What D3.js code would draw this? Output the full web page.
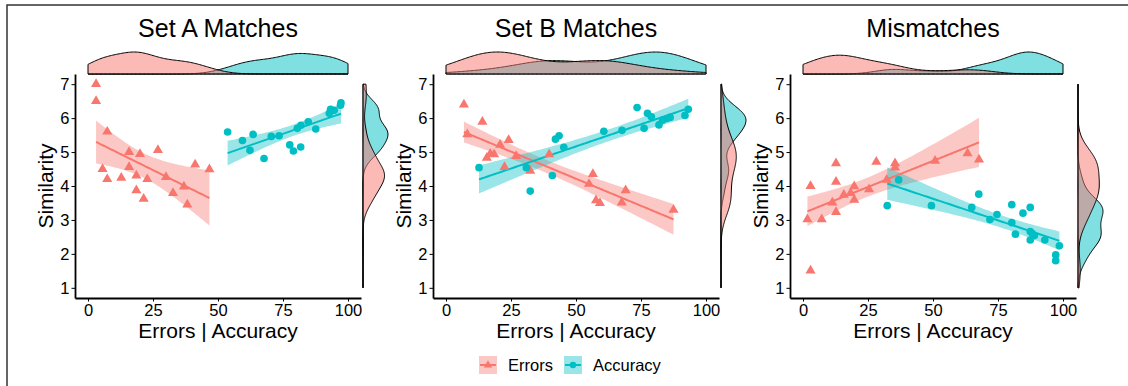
<!DOCTYPE html>
<html>
<head>
<meta charset="utf-8">
<script src="https://cdn.jsdelivr.net/npm/d3@7"></script>
<style>
  body { margin: 0; background: #fff; }
  svg { display: block; font-family: "Liberation Sans", Arial, sans-serif; }
</style>
</head>
<body>
<svg id="chart" width="1128" height="386"></svg>
<script>
const panelTitles = ["Set A Matches", "Set B Matches", "Mismatches"]
const groups = ["Errors", "Accuracy"]
const groupColors = ["#F8766D", "#00BFC4"]
const xTicks = [0, 25, 50, 75, 100]
const yTicks = [1, 2, 3, 4, 5, 6, 7]

// [errors or accuracy %, similarity]
const setAErrors = [[3.1,7.0],[3.1,6.5],[7.4,5.6],[5.6,4.5],[7.4,4.2],[12.8,4.24],[15.8,5.0],[15.8,4.56],[20,4.94],[18.6,4.31],
  [18.6,3.87],[21.4,3.62],[22.8,4.2],[26.9,5.06],[30,4.26],[32.7,3.79],[36.9,3.98],[38.2,3.45],[41.2,4.63],[46.7,4.49]]
const setAAccuracy = [[53.7,5.59],[59.4,5.34],[62.3,5.05],[63.5,5.52],[67.7,4.81],[70.5,5.46],[73.5,5.48],[77.6,5.21],[79,5.03],[80.5,5.70],
  [81.8,5.15],[81.9,5.79],[84.7,5.89],[87.6,5.68],[92.8,6.14],[93.3,6.26],[94.7,6.23],[97.3,6.45],[97.1,6.38]]
const setBErrors = [[6.9,6.40],[14.0,5.89],[8.2,5.52],[20.8,5.21],[24.1,5.35],[15.7,4.83],[18.5,4.93],[17,4.95],[27,4.88],[22.5,4.56],
  [32.4,4.45],[39.7,4.93],[55,4.06],[56.5,4.35],[57.7,3.58],[59.2,3.5],[67.6,3.51],[69.1,3.87],[87.5,3.30]]
const setBAccuracy = [[12.7,4.54],[30.9,4.54],[32.4,3.85],[40.9,4.31],[42.1,5.38],[43.5,5.48],[45.3,5.14],[60.7,5.61],[67.7,5.64],[73.5,6.31],
  [76.2,5.70],[77.5,6.14],[79,6.04],[81.9,5.80],[83.3,5.94],[84.9,5.99],[86.2,6.02],[91.9,6.08],[93.2,6.26]]
const mismatchErrors = [[1.7,3.02],[2.9,1.51],[2.9,4.0],[7.2,3.02],[11.3,3.51],[12.7,4.67],[12.7,4.12],[12.7,3.23],[15.7,3.74],[18.3,3.79],
  [19.7,3.99],[19.7,3.59],[25.4,3.90],[28.2,4.71],[32.2,4.18],[35.4,4.67],[35.4,4.54],[50.8,4.74],[63.3,4.96],[67.7,4.78]]
const mismatchAccuracy = [[32.4,3.42],[36.8,4.18],[49.4,3.42],[64.9,3.37],[67.6,3.76],[71.9,3.01],[74.6,3.16],[80.3,3.45],[80.3,2.92],[81.7,2.58],
  [84.6,3.20],[87.4,3.37],[87.4,2.66],[87.4,2.41],[89,2.54],[93,2.41],[98.6,2.24],[97.2,1.97],[97.2,1.80],[88.2,2.6]]

const panels = [
  { title: panelTitles[0], series: [setAErrors, setAAccuracy] },
  { title: panelTitles[1], series: [setBErrors, setBAccuracy] },
  { title: panelTitles[2], series: [mismatchErrors, mismatchAccuracy] }
]

// --- small stats helpers (lm with 95% CI, gaussian kde with bw.nrd0) ---
const tQuant = (df) => {
  const z = 1.959964
  return z + (z**3 + z) / (4 * df) + (5 * z**5 + 16 * z**3 + 3 * z) / (96 * df * df)
}

const linFit = (pts) => {
  const n = pts.length
  const mx = d3.mean(pts, p => p[0]), my = d3.mean(pts, p => p[1])
  let sxx = 0, sxy = 0
  pts.forEach(p => { sxx += (p[0] - mx) ** 2; sxy += (p[0] - mx) * (p[1] - my) })
  const b = sxy / sxx, a = my - b * mx
  let sse = 0
  pts.forEach(p => { sse += (p[1] - a - b * p[0]) ** 2 })
  const s = Math.sqrt(sse / (n - 2)), t = tQuant(n - 2)
  const [lo, hi] = d3.extent(pts, p => p[0])
  return d3.range(80).map(i => {
    const x = lo + (hi - lo) * i / 79, y = a + b * x
    const se = s * Math.sqrt(1 / n + (x - mx) ** 2 / sxx)
    return { x: x, y: y, lo: y - t * se, hi: y + t * se }
  })
}

const bwNrd0 = (v) => {
  const s = v.slice().sort(d3.ascending)
  const iqr = d3.quantileSorted(s, 0.75) - d3.quantileSorted(s, 0.25)
  return 0.9 * Math.min(d3.deviation(s), iqr / 1.34) * Math.pow(s.length, -0.2)
}

const kde = (v, lo, hi) => {
  const bw = bwNrd0(v)
  return d3.range(201).map(i => {
    const x = lo + (hi - lo) * i / 200
    const d = d3.sum(v, u => Math.exp(-0.5 * ((x - u) / bw) ** 2)) / (v.length * bw * Math.sqrt(2 * Math.PI))
    return [x, d]
  })
}

const svg = d3.select("#chart")

// outer frame (only top/left edges fall inside the image)
svg.append("rect")
  .attr("x", 7).attr("y", 5).attr("width", 1140).attr("height", 400)
  .attr("fill", "none").attr("stroke", "#333").attr("stroke-width", 1.5)

const x0s = [88, 446, 803]
const dataW = 260
const plotTop = 74, plotBottom = 298

panels.forEach((p, pi) => {
  const x0 = x0s[pi]
  const x = d3.scaleLinear().domain([-5, 105]).range([x0 - dataW * 0.05, x0 + dataW * 1.05])
  const y = d3.scaleLinear().domain([0.7, 7.3]).range([plotBottom, plotTop])
  const g = svg.append("g")

  // title
  g.append("text")
    .attr("x", x(50)).attr("y", 37)
    .attr("text-anchor", "middle")
    .attr("font-size", 25)
    .text(p.title)

  // top marginal density of x
  const topDens = p.series.map(s => kde(s.map(d => d[0]), 0, 100))
  const topMax = d3.max(topDens, d => d3.max(d, e => e[1]))
  const hy = d3.scaleLinear().domain([0, topMax]).range([plotTop, plotTop - 22])
  const topArea = d3.area().x(d => x(d[0])).y0(plotTop).y1(d => hy(d[1])).curve(d3.curveBasis)
  ;[1, 0].forEach(gi => {
    g.append("path")
      .attr("d", topArea(topDens[gi]))
      .attr("fill", groupColors[gi]).attr("fill-opacity", 0.5)
      .attr("stroke", "#000").attr("stroke-width", 1)
  })

  // right marginal density of y
  const rightBase = x(105) + 2
  const rDens = p.series.map(s => kde(s.map(d => d[1]), 1, 7))
  const rMax = d3.max(rDens, d => d3.max(d, e => e[1]))
  const wx = d3.scaleLinear().domain([0, rMax]).range([rightBase, rightBase + 25])
  const rArea = d3.area().y(d => y(d[0])).x0(rightBase).x1(d => wx(d[1])).curve(d3.curveBasis)
  ;[1, 0].forEach(gi => {
    g.append("path")
      .attr("d", rArea(rDens[gi]))
      .attr("fill", groupColors[gi]).attr("fill-opacity", 0.5)
      .attr("stroke", "#000").attr("stroke-width", 1)
  })

  // regression bands + lines
  p.series.forEach((s, gi) => {
    const fit = linFit(s)
    g.append("path")
      .attr("d", d3.area().x(d => x(d.x)).y0(d => y(d.lo)).y1(d => y(d.hi))(fit))
      .attr("fill", groupColors[gi]).attr("fill-opacity", 0.4)
  })
  p.series.forEach((s, gi) => {
    const fit = linFit(s)
    g.append("path")
      .attr("d", d3.line().x(d => x(d.x)).y(d => y(d.y))(fit))
      .attr("fill", "none").attr("stroke", groupColors[gi]).attr("stroke-width", 2)
  })

  // points
  p.series.forEach((s, gi) => {
    const sym = d3.symbol().type(gi == 0 ? d3.symbolTriangle : d3.symbolCircle).size(gi == 0 ? 44 : 46)
    g.selectAll(".pt" + gi)
      .data(s)
      .enter().append("path")
        .attr("transform", d => "translate(" + x(d[0]) + "," + y(d[1]) + ")")
        .attr("d", sym)
        .attr("fill", groupColors[gi])
  })

  // axes
  const xAxis = g.append("g")
    .attr("transform", "translate(0," + plotBottom + ")")
    .call(d3.axisBottom(x).tickValues(xTicks).tickFormat(d3.format("d")).tickSize(3.5).tickSizeOuter(0).tickPadding(3))
  const yAxis = g.append("g")
    .attr("transform", "translate(" + x(-5) + ",0)")
    .call(d3.axisLeft(y).tickValues(yTicks).tickFormat(d3.format("d")).tickSize(3.5).tickSizeOuter(0).tickPadding(2))
  ;[xAxis, yAxis].forEach(a => {
    a.select(".domain").attr("stroke", "#000").attr("stroke-width", 1.8)
    a.selectAll(".tick line").attr("stroke", "#000").attr("stroke-width", 1)
    a.selectAll(".tick text").attr("fill", "#000").attr("font-size", 16.5)
      .attr("font-family", "\"Liberation Sans\", Arial, sans-serif")
  })

  // axis titles
  g.append("text")
    .attr("x", x(50)).attr("y", 338)
    .attr("text-anchor", "middle")
    .attr("font-size", 21)
    .text("Errors | Accuracy")
  g.append("text")
    .attr("transform", "translate(" + (x(-5) - 22) + "," + ((plotTop + plotBottom) / 2) + ") rotate(-90)")
    .attr("text-anchor", "middle")
    .attr("font-size", 21)
    .text("Similarity")
})

// legend
const legendX = [479, 564]
const legend = svg.append("g")
groups.forEach((name, gi) => {
  const lx = legendX[gi], ly = 356
  legend.append("rect")
    .attr("x", lx).attr("y", ly).attr("width", 18).attr("height", 18)
    .attr("fill", groupColors[gi]).attr("fill-opacity", 0.4)
  legend.append("line")
    .attr("x1", lx + 1).attr("x2", lx + 17).attr("y1", ly + 9).attr("y2", ly + 9)
    .attr("stroke", groupColors[gi]).attr("stroke-width", 2)
  legend.append("path")
    .attr("transform", "translate(" + (lx + 9) + "," + (ly + 9) + ")")
    .attr("d", d3.symbol().type(gi == 0 ? d3.symbolTriangle : d3.symbolCircle).size(gi == 0 ? 30 : 32))
    .attr("fill", groupColors[gi])
  legend.append("text")
    .attr("x", lx + 29).attr("y", ly + 15)
    .attr("font-size", 16.5)
    .text(name)
})
</script>
</body>
</html>
